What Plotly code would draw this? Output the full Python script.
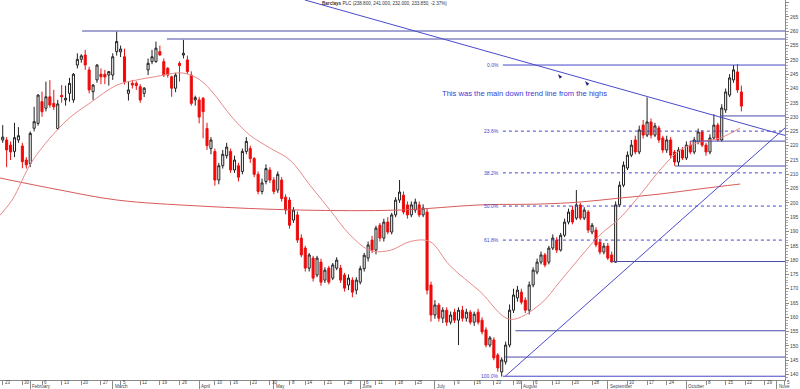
import datetime as dt
import plotly.graph_objects as go

# ---------------- data ----------------
START = dt.date(2012, 1, 23)
END_AXIS = dt.date(2012, 11, 5)
HOLIDAYS = [dt.date(2012, 4, 6), dt.date(2012, 4, 9), dt.date(2012, 5, 7),
            dt.date(2012, 6, 4), dt.date(2012, 6, 5), dt.date(2012, 8, 27)]
MONTH_NAMES = {2: "February", 3: "March", 4: "April", 5: "May", 6: "June", 7: "July",
               8: "August", 9: "September", 10: "October", 11: "Nove"}

opens = [222.0, 222.0, 220.2, 218.0, 222.0, 219.9, 215.0, 213.8, 226.1, 227.8,
         235.4, 233.1, 237.1, 234.8, 226.0, 237.6, 236.0, 238.3, 236.0, 248.2,
         250.2, 251.7, 246.5, 238.9, 243.0, 245.0, 245.0, 244.7, 244.7, 252.9,
         252.8, 251.1, 238.3, 241.8, 241.8, 240.6, 238.3, 246.5, 249.4, 249.4,
         252.9, 249.4, 247.1, 244.1, 240.1, 248.8, 251.7, 250.0, 244.7, 236.0,
         236.0, 236.6, 226.0, 219.0, 218.0, 208.0, 213.0, 216.5, 218.0, 211.5,
         213.0, 211.0, 218.0, 219.0, 215.5, 210.0, 204.0, 207.5, 211.5, 208.0,
         204.5, 208.0, 202.0,
         201.0, 194.0, 195.8, 187.7, 184.2, 177.2, 180.7, 174.8, 179.3, 173.0,
         177.2, 173.7, 177.2, 177.2, 174.8, 171.3, 173.0, 169.5, 172.3, 177.0,
         180.7, 187.0, 183.5, 192.2, 187.7, 193.3, 189.8, 195.8, 201.0, 202.7,
         199.3, 195.8, 197.5, 199.3, 195.8, 196.8, 171.3, 160.8, 164.3, 159.7,
         162.5, 158.3, 161.8, 159.0, 162.5, 159.7, 161.8, 158.3, 161.8, 159.0,
         155.6, 150.3, 152.1, 146.8, 140.9, 144.4, 150.3, 162.5, 166.8, 168.8,
         166.0, 162.5, 171.3, 175.8, 179.3, 181.8, 179.3, 184.2, 187.0, 183.5,
         188.7, 193.3, 197.5, 194.7, 199.3, 194.7, 196.8, 189.8, 190.5, 186.3,
         182.8, 184.9, 181.8, 179.3, 199.3, 206.2, 212.2, 216.7, 222.0, 217.8,
         227.2, 223.7, 228.3, 223.7, 226.2, 222.7, 218.5, 222.0, 217.8, 214.3,
         218.5, 215.7, 220.2, 217.8, 221.3, 224.8, 220.2, 217.8, 222.7, 227.2,
         222.0, 232.5, 237.7, 243.0, 245.8, 238.8]
highs = [227.2, 223.0, 221.5, 228.0, 226.5, 221.0, 216.0, 225.0, 233.6, 238.0,
         238.9, 242.4, 242.9, 239.5, 236.0, 241.2, 241.0, 243.7, 245.4, 252.3,
         252.0, 253.5, 247.6, 241.5, 248.5, 247.0, 246.5, 245.5, 252.3, 259.9,
         255.0, 253.9, 242.5, 243.0, 242.5, 241.5, 240.5, 250.5, 253.5, 256.4,
         255.0, 250.5, 247.5, 244.5, 245.5, 249.5, 257.0, 251.5, 246.0, 237.5,
         237.1, 237.0, 228.0, 223.0, 219.0, 214.0, 218.5, 221.0, 219.0, 216.5,
         214.0, 219.0, 223.0, 220.0, 216.0, 211.0, 208.5, 213.5, 212.5, 209.0,
         211.0, 209.0, 203.0,
         202.0, 198.5, 197.0, 189.0, 185.0, 182.5, 181.5, 181.5, 180.5, 177.5,
         178.0, 179.0, 181.0, 178.3, 175.5, 175.0, 174.0, 174.0, 178.0, 182.5,
         186.5, 188.5, 192.0, 193.0, 194.5, 195.0, 196.5, 202.0, 208.0, 204.0,
         200.5, 200.5, 201.5, 200.5, 199.5, 198.0, 172.5, 166.0, 165.0, 163.5,
         163.5, 162.0, 163.0, 163.5, 164.0, 163.0, 162.5, 162.0, 163.0, 160.0,
         156.5, 153.5, 153.0, 147.5, 146.0, 151.5, 164.5, 170.0, 171.0, 170.0,
         167.0, 172.5, 177.5, 180.5, 183.0, 182.5, 185.0, 189.0, 188.0, 189.5,
         194.5, 198.0, 199.0, 204.5, 200.0, 198.5, 197.5, 193.0, 191.5, 187.5,
         186.0, 186.0, 183.0, 200.5, 207.5, 214.5, 218.0, 222.0, 223.5, 227.0,
         229.0, 236.9, 229.5, 228.0, 227.0, 223.5, 223.5, 223.0, 218.5, 219.5,
         219.5, 221.5, 221.6, 223.0, 226.0, 225.5, 221.0, 224.0, 231.0, 228.0,
         234.5, 240.0, 245.0, 248.2, 248.5, 241.0]
lows = [221.0, 212.5, 215.0, 216.0, 221.0, 212.1, 212.0, 212.5, 225.0, 227.0,
        230.1, 232.0, 233.3, 232.5, 225.5, 235.0, 234.0, 235.4, 235.0, 247.0,
        249.0, 246.5, 238.3, 236.0, 242.0, 241.5, 241.5, 241.0, 243.0, 251.5,
        251.0, 241.4, 235.8, 240.0, 239.5, 235.0, 237.0, 244.7, 248.5, 249.0,
        251.5, 244.0, 243.8, 237.1, 238.7, 242.4, 250.5, 245.0, 234.0, 234.0,
        227.8, 222.6, 218.5, 217.0, 206.0, 206.5, 212.0, 215.5, 210.5, 210.5,
        207.5, 210.0, 217.0, 214.0, 209.0, 203.0, 203.0, 206.5, 207.0, 203.0,
        203.5, 200.5, 196.0,
        191.0, 193.0, 186.0, 181.0, 176.0, 176.0, 172.5, 174.0, 171.0, 172.0,
        171.5, 173.0, 176.5, 172.0, 169.0, 169.5, 167.0, 168.0, 171.5, 176.0,
        179.5, 182.5, 182.0, 186.5, 186.5, 189.0, 189.0, 195.0, 200.0, 196.0,
        194.5, 195.0, 196.5, 195.0, 195.0, 168.0, 158.5, 159.5, 158.5, 158.0,
        157.0, 157.5, 158.0, 150.3, 158.5, 158.5, 157.5, 157.0, 157.5, 154.0,
        149.5, 149.5, 145.0, 141.0, 139.3, 143.5, 149.5, 161.5, 165.5, 164.5,
        161.5, 161.0, 170.5, 175.0, 178.5, 177.5, 178.5, 183.5, 182.5, 183.0,
        188.0, 192.5, 192.5, 194.0, 194.0, 194.0, 189.5, 189.0, 184.5, 182.0,
        182.0, 180.0, 179.3, 179.0, 198.5, 205.5, 211.5, 216.0, 217.0, 217.0,
        222.5, 223.0, 222.5, 223.0, 221.0, 217.5, 217.5, 215.5, 213.0, 212.9,
        215.0, 215.0, 217.0, 217.0, 220.5, 219.5, 216.5, 217.0, 222.0, 221.5,
        221.5, 231.5, 237.0, 242.0, 238.5, 232.0]
closes = [223.0, 218.5, 217.8, 222.8, 223.5, 214.4, 213.3, 224.3, 228.4, 237.7,
          231.9, 237.1, 234.2, 233.6, 234.6, 237.1, 236.6, 241.8, 245.0, 250.2,
          251.4, 248.2, 239.5, 241.2, 248.2, 244.1, 244.0, 245.9, 251.1, 256.4,
          253.8, 242.4, 239.5, 241.2, 241.0, 236.0, 240.1, 248.8, 251.1, 254.1,
          251.7, 244.7, 244.7, 240.1, 244.7, 248.0, 252.3, 245.9, 234.8, 236.8,
          230.0, 231.9, 220.0, 222.0, 208.0, 213.0, 217.0, 219.5, 211.5, 215.0,
          209.0, 218.0, 221.5, 215.5, 210.0, 204.0, 207.0, 212.0, 208.0, 204.0,
          210.0, 201.5, 197.5,
          192.2, 197.5, 187.0, 181.8, 177.2, 181.8, 173.7, 180.7, 172.3, 176.5,
          172.3, 178.3, 180.0, 173.0, 170.2, 173.7, 168.8, 173.0, 177.0, 181.7,
          185.3, 183.5, 191.2, 187.7, 193.3, 189.8, 195.8, 201.0, 203.8, 196.8,
          195.8, 199.3, 200.3, 195.8, 198.2, 169.5, 160.8, 164.3, 159.7, 162.5,
          158.3, 160.8, 159.0, 162.5, 159.7, 161.8, 158.3, 161.1, 158.3, 154.9,
          150.3, 152.8, 145.8, 142.3, 145.1, 150.3, 162.5, 167.8, 169.5, 165.3,
          162.5, 171.3, 176.5, 179.3, 181.8, 178.3, 184.2, 187.7, 183.5, 188.7,
          193.3, 196.8, 193.3, 199.3, 194.7, 197.5, 190.5, 192.2, 185.3, 182.8,
          184.9, 180.7, 179.3, 199.3, 206.2, 213.2, 216.7, 220.2, 217.8, 225.5,
          223.7, 228.3, 223.7, 226.9, 222.0, 218.5, 222.0, 216.7, 214.3, 218.5,
          215.7, 220.2, 217.8, 222.0, 224.8, 220.2, 217.8, 222.7, 227.2, 222.0,
          233.2, 238.8, 243.7, 246.5, 239.5, 233.85]

# moving averages read at sample points (trading-day index, price)
short_ma_idx = [-0.7, 2.4, 7.7, 16.4, 22.2, 29.1, 34.2, 38.3, 45.9, 50.2, 54.0, 57.9,
                62.9, 68.0, 73.1, 78.2, 83.3, 88.4, 93.5, 98.6, 103.7, 108.7, 113.8,
                121.5, 129.1, 136.8, 141.8, 146.9, 152.0, 157.1, 162.2, 167.3, 172.4,
                177.5, 182.6, 187.7]
short_ma_val = [195.7, 201.0, 215.0, 229.0, 234.9, 241.2, 243.0, 244.0, 245.4, 243.0,
                237.7, 230.7, 223.7, 219.2, 215.0, 206.2, 197.5, 188.8, 183.4, 183.4,
                186.5, 186.5, 178.1, 169.0, 159.3, 164.6, 172.5, 180.9, 188.8, 194.7,
                202.8, 211.5, 218.5, 221.3, 222.7, 226.2]
long_ma_idx = [-0.7, 14.6, 29.1, 50.2, 75.7, 101.1, 121.5, 136.8, 146.9, 157.1,
               167.3, 177.5, 187.7]
long_ma_val = [208.7, 204.5, 201.0, 198.9, 197.5, 197.5, 199.3, 199.6, 200.3, 201.7,
               203.1, 204.9, 206.6]

# drawn studies
hline_levels = [260.1, 257.3, 230.4, 221.6, 212.9, 179.5, 155.3, 146.1]
hline_start = [20.2, 41.8, 182.6, 174.9, 171.1, 155.1, 130.5, 127.9]
fib_levels = [248.2, 225.1, 210.5, 198.9, 187.0, 139.4]
fib_labels = ["0.0%", "23.6%", "38.2%", "50.0%", "61.8%", "100.0%"]
fib_solid = [True, False, False, False, False, True]
fib_start = 127.3
down_trend_idx, down_trend_val = [76.9, 199.1], [270.95, 223.6]
up_trend_idx, up_trend_val = [127.9, 199.1], [139.4, 226.2]
arrow_idx, arrow_val = [141.3, 148.2], [245.0, 242.6]
note_idx, note_val = 132.8, 238.4
y_ticks = list(range(140, 271, 5))
title_text = "<b>Barclays</b> PLC (238.800, 241.000, 232.000, 233.850, -2.37%)"

# ---------------- calendar ----------------
hol = set(HOLIDAYS)
days = []
d = START
while d <= END_AXIS:
    if d.weekday() < 5 and d not in hol:
        days.append(d)
    d += dt.timedelta(days=1)
n = len(closes)
xs = list(range(n))

week_idx, week_txt, month_idx, month_txt = [], [], [], []
for i, day in enumerate(days):
    new_month = i > 0 and days[i - 1].month != day.month
    new_week = i == 0 or days[i - 1].isocalendar()[1] != day.isocalendar()[1]
    if new_month:
        month_idx.append(i)
        month_txt.append(MONTH_NAMES.get(day.month, ""))
    elif new_week:
        week_idx.append(i)
        week_txt.append(str(day.day))

X0, X1 = -0.69, 199.1
Y0, Y1 = 138.08, 270.94
FONT = "Liberation Sans"

fig = go.Figure()

fig.add_trace(go.Scatter(x=long_ma_idx, y=long_ma_val, mode="lines",
                         line=dict(color="#d85a5a", width=1, shape="spline"),
                         hoverinfo="skip"))
fig.add_trace(go.Scatter(x=short_ma_idx, y=short_ma_val, mode="lines",
                         line=dict(color="#e88a8a", width=1, shape="spline"),
                         hoverinfo="skip"))

for lv, st in zip(hline_levels, hline_start):
    fig.add_trace(go.Scatter(x=[st, X1], y=[lv, lv], mode="lines",
                             line=dict(color="#4a4aa8", width=1), hoverinfo="skip"))

for lv, lab, solid in zip(fib_levels, fib_labels, fib_solid):
    fig.add_trace(go.Scatter(x=[fib_start, X1], y=[lv, lv], mode="lines",
                             line=dict(color="#4646c8", width=1,
                                       dash="solid" if solid else "dot"),
                             hoverinfo="skip"))
    fig.add_annotation(x=fib_start - 0.6, y=lv, text=lab, showarrow=False,
                       xanchor="right", yanchor="middle",
                       font=dict(size=5, color="#4646c8", family=FONT))

fig.add_trace(go.Scatter(x=down_trend_idx, y=down_trend_val, mode="lines",
                         line=dict(color="#4a4ad0", width=1), hoverinfo="skip"))
fig.add_trace(go.Scatter(x=up_trend_idx, y=up_trend_val, mode="lines",
                         line=dict(color="#4a4ad0", width=1), hoverinfo="skip"))
fig.add_trace(go.Scatter(x=arrow_idx, y=arrow_val, mode="markers",
                         marker=dict(symbol="arrow", size=5, angle=-40, color="#202070"),
                         hoverinfo="skip"))

fig.add_trace(go.Candlestick(
    x=xs, open=opens, high=highs, low=lows, close=closes,
    increasing=dict(line=dict(color="#202020", width=1), fillcolor="#ffffff"),
    decreasing=dict(line=dict(color="#e81010", width=1), fillcolor="#ff0000"),
    whiskerwidth=0, hoverinfo="skip"))

fig.add_annotation(x=note_idx, y=note_val, text="This was the main down trend line from the highs",
                   showarrow=False, xanchor="center", yanchor="middle",
                   font=dict(size=7.6, color="#3a3ad0", family=FONT))
fig.add_annotation(x=0.49, y=1.0, xref="paper", yref="paper", xanchor="center", yanchor="top",
                   text=title_text, showarrow=False, yshift=1,
                   font=dict(size=4.6, color="#333333", family=FONT))

for wi, wt in zip(week_idx, week_txt):
    fig.add_annotation(x=wi, y=0, xref="x", yref="paper", text=wt, showarrow=False,
                       xanchor="left", yanchor="top", yshift=2, xshift=0,
                       font=dict(size=4.5, color="#444444", family=FONT))
for mi, mt in zip(month_idx, month_txt):
    fig.add_annotation(x=mi, y=0, xref="x", yref="paper", text=mt, showarrow=False,
                       xanchor="left", yanchor="top", yshift=-2, xshift=0,
                       font=dict(size=4.5, color="#444444", family=FONT))

fig.update_layout(
    width=800, height=389, margin=dict(l=0, r=15, t=0, b=9),
    paper_bgcolor="white", plot_bgcolor="white", showlegend=False,
    xaxis=dict(range=[X0, X1], showgrid=False, zeroline=False, showline=True,
               linecolor="#8a8a8a", linewidth=1, rangeslider=dict(visible=False),
               tickmode="array", tickvals=week_idx, showticklabels=False,
               ticks="outside", ticklen=4, tickcolor="#8a8a8a",
               minor=dict(tickmode="array", tickvals=month_idx, ticks="outside",
                          ticklen=9, tickcolor="#8a8a8a"),
               automargin=False, fixedrange=True),
    yaxis=dict(range=[Y0, Y1], side="right", showgrid=False, zeroline=False,
               showline=True, linecolor="#8a8a8a", linewidth=1,
               tickmode="array", tickvals=y_ticks, ticks="outside", ticklen=3,
               tickcolor="#8a8a8a",
               minor=dict(dtick=1, ticks="outside", ticklen=2, tickcolor="#aaaaaa"),
               tickfont=dict(size=5, color="#444444", family=FONT),
               automargin=False, fixedrange=True),
    boxgap=0.25,
)

fig.write_html("out.html")
